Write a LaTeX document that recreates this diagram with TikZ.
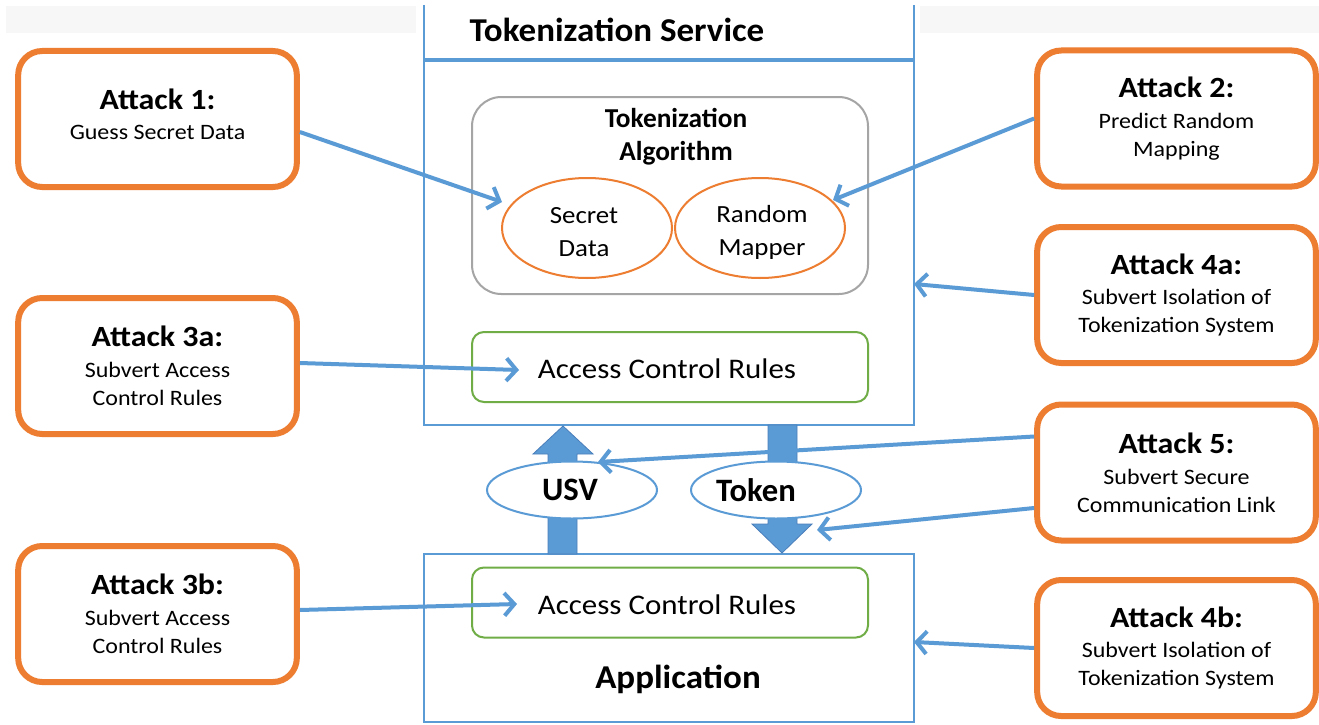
\documentclass[tikz,border=0pt]{standalone}
\usepackage{fontspec}
\setmainfont{Carlito}
\newfontfamily\widefont[FakeStretch=1.09]{Carlito}
\newfontfamily\midfont[FakeStretch=1.05]{Carlito}
\usetikzlibrary{arrows.meta,shapes.geometric,calc}
\definecolor{tblue}{HTML}{5B9BD5}
\definecolor{tblueedge}{HTML}{4A7EBB}
\definecolor{torange}{HTML}{ED7D31}
\definecolor{tgreen}{HTML}{70AD47}
\definecolor{tgray}{HTML}{A5A5A5}
\definecolor{tband}{HTML}{F7F7F7}
\newcommand{\atttitle}[1]{{\fontsize{22}{24}\selectfont\bfseries #1}}
\begin{document}
\begin{tikzpicture}[x=0.75pt,y=-0.75pt,
  attackbox/.style={draw=torange, line width=4.5pt, rounded corners=18pt, fill=white,
    minimum width=209pt, minimum height=102pt, align=center, inner sep=0pt,
    font=\widefont\fontsize{16.5}{21}\selectfont},
  algobox/.style={draw=tgray, line width=1.5pt, rounded corners=22pt, fill=white,
    minimum width=297pt, minimum height=147.75pt, inner sep=0pt},
  rulebox/.style={draw=tgreen, line width=1.5pt, rounded corners=9pt, fill=white,
    minimum width=297pt, minimum height=52.5pt, inner sep=0pt},
  ruletext/.style={font=\widefont\fontsize{21.3}{24}\selectfont, inner sep=0pt},
  partell/.style={draw=torange, line width=1.5pt, ellipse, fill=white,
    minimum width=127.5pt, minimum height=75pt, inner sep=0pt},
  parttext/.style={font=\widefont\fontsize{18.5}{24.75}\selectfont, align=center, inner sep=0pt},
  msgell/.style={draw=tblue, line width=1.5pt, ellipse, fill=white,
    minimum width=127.5pt, minimum height=42.75pt, inner sep=0pt},
  msgtext/.style={font=\fontsize{24.5}{26}\selectfont\bfseries, inner sep=0pt},
  frameline/.style={draw=tblue, line width=1.8pt},
  attackarrow/.style={draw=tblue, line width=3pt, -{Straight Barb[length=7.5pt,width=17pt]}},
  blockarrow/.style={fill=tblue, draw=tblueedge, line width=0.6pt},
  bigtitle/.style={font=\midfont\fontsize{25}{28}\selectfont\bfseries, inner sep=0pt}
]
\useasboundingbox (0,0) rectangle (1319,724);
\fill[white] (0,0) rectangle (1319,724);
\fill[tband] (6,6) rectangle (416,33);
\fill[tband] (920,6) rectangle (1319,33);

% service frame
\node[minimum width=367.5pt, minimum height=315pt, inner sep=0pt, outer sep=0pt] (svc) at (669,215) {};
\draw[frameline] (svc.north west) -- (svc.south west) -- (svc.south east) -- (svc.north east);
\draw[draw=tblue, line width=3pt] ($(svc.west)+(0,-155)$) -- ($(svc.east)+(0,-155)$);
\node[bigtitle] (svctitle) at (617,30) {Tokenization Service};

% application frame
\node[draw=tblue, line width=1.8pt, minimum width=367.5pt, minimum height=126pt, inner sep=0pt, outer sep=0pt] (app) at (669,638) {};
\node[bigtitle] (apptitle) at (678,679) {Application};

% algorithm box
\node[algobox] (algo) at (670,195.5) {};
\node[font=\fontsize{20.5}{24.75}\selectfont\bfseries, align=center, inner sep=0pt] (algotitle) at (676,137) {Tokenization\\Algorithm};
\node[partell] (sd) at (587,228) {};
\node[parttext] (sdtext) at (584,232) {Secret\\Data};
\node[partell] (rm) at (760,228) {};
\node[parttext] (rmtext) at (762,232) {Random\\Mapper};

% access control rules
\node[rulebox] (acr1) at (670,367) {};
\node[ruletext] (acr1text) at (667,369) {Access Control Rules};
\node[rulebox] (acr2) at (670,602.5) {};
\node[ruletext] (acr2text) at (667,605) {Access Control Rules};

% block arrows
\draw[blockarrow] (548,554) -- (548,454) -- (533,454) -- (563,426) -- (593,454) -- (577,454) -- (577,554) -- cycle;
\draw[blockarrow] (768,425) -- (768,524) -- (752,524) -- (782,553) -- (812,524) -- (797,524) -- (797,425) -- cycle;
\node[msgell] (usv) at (572,490) {};
\node[msgtext] (usvtext) at (570,490) {USV};
\node[msgell] (tok) at (776,490) {};
\node[msgtext] (toktext) at (756,490) {Token};

% attack boxes
\node[attackbox] (a1) at (157.5,119) {\atttitle{Attack 1:}\\[2pt]Guess Secret Data\\[-14pt]\mbox{}};
\node[attackbox] (a3a) at (157.5,366) {\atttitle{Attack 3a:}\\[2pt]Subvert Access\\Control Rules};
\node[attackbox] (a3b) at (157.5,614) {\atttitle{Attack 3b:}\\[2pt]Subvert Access\\Control Rules};
\node[attackbox] (a2) at (1176.5,118.5) {\atttitle{Attack 2:}\\[2pt]Predict Random\\Mapping};
\node[attackbox] (a4a) at (1176.5,295) {\atttitle{Attack 4a:}\\[2pt]Subvert Isolation of\\Tokenization System};
\node[attackbox] (a5) at (1176.5,472.5) {\atttitle{Attack 5:}\\[2pt]Subvert Secure\\Communication Link};
\node[attackbox] (a4b) at (1176.5,648) {\atttitle{Attack 4b:}\\[2pt]Subvert Isolation of\\Tokenization System};

% attack arrows
\draw[attackarrow] ($(a1.east)+(0,13)$) -- ($(sd.center)+(-85,-26)$);
\draw[attackarrow] (a2.west) -- ($(rm.center)+(73,-28)$);
\draw[attackarrow] (a4a.west) -- ($(svc.east)+(0,69)$);
\draw[attackarrow] ($(a3a.east)+(0,-3)$) -- ($(acr1.west)+(48,3)$);
\draw[attackarrow] ($(a5.west)+(0,-36)$) -- ($(usv.center)+(26,-28)$);
\draw[attackarrow] ($(a5.west)+(0,35.5)$) -- ($(tok.center)+(41,40)$);
\draw[attackarrow] ($(a3b.east)+(0,-4)$) -- ($(acr2.west)+(46,1.5)$);
\draw[attackarrow] (a4b.west) -- ($(app.east)+(0,4)$);
\end{tikzpicture}
\end{document}
